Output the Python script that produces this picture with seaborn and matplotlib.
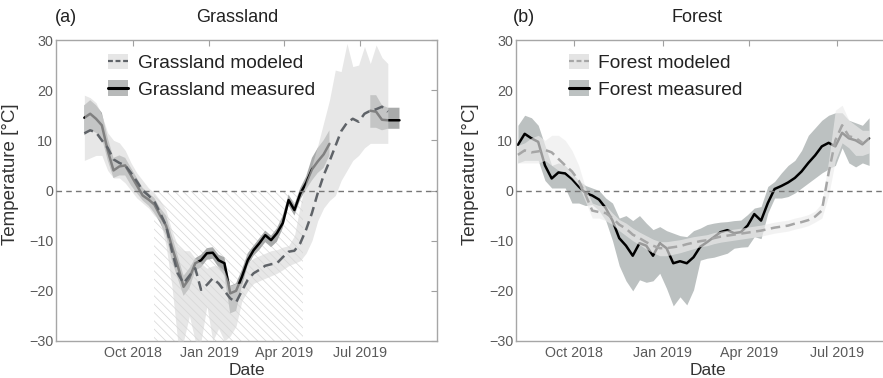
import numpy as np
import pandas as pd
import matplotlib
matplotlib.use("Agg")
import matplotlib.pyplot as plt
import matplotlib.dates as mdates
from matplotlib.patches import Patch
from matplotlib.lines import Line2D
import seaborn as sns

nan = np.nan

# Weekly snow-bottom temperature series (°C)
dates = pd.date_range("2018-08-04", periods=55, freq="7D")

grass_measured = [14.5, 15.3, 14.3, 13.0, 8.0, 4.0, 4.8, 5.0, 3.0, 1.0,
                  -1.0, -1.8, -2.8, -5.0, -7.0, -11.2, -15.0, -19.2, -17.5, -14.5,
                  -13.9, -12.5, -12.4, -13.9, -14.5, -20.5, -20.0, -17.2, -13.9, -11.9,
                  -10.5, -8.9, -9.9, -8.5, -6.5, -1.9, -3.9, -0.6, 1.5, 4.2,
                  5.8, 7.2, 9.3, nan, nan, nan, nan, nan, nan, 15.9,
                  15.7, 14.1, 14.0, 14.0, 14.0]
grass_measured_hi = [17.0, 18.0, 17.0, 15.5, 10.5, 6.5, 7.0, 6.5, 4.5, 2.5,
                     0.5, -0.5, -1.5, -3.5, -5.0, -9.0, -13.0, -17.0, -15.5, -13.5,
                     -12.8, -11.5, -11.3, -12.8, -13.3, -19.0, -18.5, -15.8, -12.5, -11.0,
                     -9.5, -8.0, -9.0, -7.5, -5.0, -0.8, -2.8, 0.5, 2.8, 6.5,
                     8.5, 10.0, 12.0, nan, nan, nan, nan, nan, nan, 19.0,
                     19.0, 17.0, 16.5, 16.5, 16.5]
grass_measured_lo = [11.0, 12.0, 11.5, 10.5, 6.0, 2.5, 3.0, 3.0, 1.0, -0.5,
                     -2.0, -3.0, -4.5, -6.5, -9.0, -14.0, -17.5, -21.0, -19.5, -16.0,
                     -15.3, -13.8, -13.6, -15.3, -17.0, -24.5, -24.0, -19.0, -15.0, -13.0,
                     -11.8, -10.3, -11.3, -10.2, -7.5, -3.0, -5.0, -1.8, 0.2, 2.0,
                     3.5, 4.5, 7.0, nan, nan, nan, nan, nan, nan, 12.5,
                     12.5, 12.0, 12.3, 12.3, 12.3]
grass_modeled = [11.4, 12.0, 11.6, 10.0, 8.5, 6.2, 5.5, 5.0, 3.5, 1.8,
                 0.0, -1.0, -2.2, -4.5, -7.0, -12.0, -16.5, -18.5, -17.0, -15.5,
                 -19.8, -18.8, -17.5, -18.5, -20.0, -21.5, -22.3, -20.0, -17.8, -16.5,
                 -15.8, -15.0, -14.7, -14.5, -13.3, -12.2, -12.0, -10.5, -7.8, -4.5,
                 -0.5, 3.0, 5.8, 8.8, 11.8, 13.5, 14.3, 13.7, 15.3, 15.9,
                 16.2, 16.7, 15.7, nan, nan]
grass_modeled_hi = [19.0, 18.5, 17.5, 15.0, 11.5, 10.0, 9.5, 8.0, 5.5, 3.5,
                    2.0, 0.5, -0.5, -2.0, -4.0, -8.0, -11.0, -12.0, -12.0, -13.5,
                    -14.5, -15.5, -15.0, -15.0, -16.0, -19.0, -18.5, -18.5, -14.5, -13.5,
                    -13.0, -12.5, -12.0, -11.8, -11.3, -11.0, -9.0, -3.0, 2.0, 5.0,
                    9.0, 13.5, 18.0, 24.0, 23.7, 29.3, 24.7, 25.0, 28.7, 25.3,
                    29.0, 26.5, 25.3, nan, nan]
grass_modeled_lo = [6.0, 6.5, 7.0, 7.0, 4.0, 2.5, 2.5, 1.5, 0.0, -1.5,
                    -2.5, -3.5, -5.0, -6.0, -11.0, -19.0, -30.0, -30.0, -25.0, -30.0,
                    -30.0, -23.0, -30.0, -27.5, -30.0, -29.0, -27.0, -22.0, -20.0, -18.5,
                    -18.0, -17.5, -17.0, -16.5, -15.8, -15.0, -14.5, -14.0, -12.5, -10.0,
                    -6.0, -3.5, -2.0, -1.0, 2.0, 4.0, 6.0, 7.0, 8.5, 9.4,
                    9.4, 9.4, 9.4, nan, nan]

forest_measured = [9.1, 11.3, 10.4, 9.7, 5.0, 2.4, 3.6, 3.4, 2.3, 0.8,
                   -0.5, -1.0, -1.8, -3.5, -6.0, -9.5, -11.0, -13.0, -10.5, -11.0,
                   -13.0, -10.5, -11.5, -14.5, -14.1, -14.5, -13.3, -11.2, -10.3, -9.3,
                   -8.3, -7.9, -8.5, -8.3, -7.0, -4.7, -6.0, -2.5, 0.3, 0.9,
                   1.6, 2.5, 3.8, 5.5, 7.0, 8.8, 9.5, 8.8, 11.5, 10.4,
                   10.0, 9.2, 10.4, nan, nan]
forest_measured_hi = [13.0, 15.0, 14.5, 13.0, 9.0, 5.0, 5.5, 5.0, 3.5, 2.0,
                      1.0, 0.5, 0.0, -1.5, -2.5, -5.5, -5.0, -6.0, -5.0, -6.5,
                      -7.8, -7.2, -8.0, -8.5, -9.0, -9.2, -8.0, -7.5, -6.8, -6.5,
                      -6.3, -6.2, -6.0, -5.9, -4.8, -3.5, -3.2, 0.8, 1.8, 3.5,
                      5.0, 6.0, 8.0, 11.0, 12.5, 14.0, 15.0, 15.5, 15.5, 14.0,
                      13.5, 13.0, 14.5, nan, nan]
forest_measured_lo = [5.5, 6.0, 6.0, 6.0, 2.0, 0.5, 0.5, 0.5, -2.5, -2.5,
                      -3.0, -2.8, -4.0, -6.0, -10.0, -15.0, -18.0, -20.0, -17.8, -18.3,
                      -18.0, -16.5, -19.5, -23.0, -21.2, -22.8, -19.8, -13.9, -13.5, -13.3,
                      -12.9, -12.5, -11.5, -11.3, -11.2, -9.2, -9.6, -4.5, -1.5, -1.5,
                      -1.2, -0.5, 0.5, 1.5, 2.5, 3.5, 4.3, 5.0, 8.5, 5.5,
                      4.7, 5.5, 5.0, nan, nan]
forest_modeled = [7.1, 8.0, 7.6, 7.8, 8.1, 7.6, 6.3, 5.0, 3.8, 2.0,
                  -0.8, -4.0, -4.3, -4.5, -5.5, -6.8, -7.6, -8.8, -9.5, -10.3,
                  -11.0, -11.5, -11.5, -11.3, -11.1, -10.7, -10.4, -10.1, -9.9, -9.5,
                  -9.2, -9.0, -8.8, -8.6, -8.4, -8.2, -8.0, -7.7, -7.4, -7.2,
                  -7.0, -6.6, -6.3, -5.9, -5.2, -4.0, 3.5, 10.0, 13.0, 10.8,
                  10.5, 9.5, nan, nan, nan]
forest_modeled_hi = [9.0, 9.5, 10.5, 11.0, 10.0, 11.0, 11.0, 10.0, 8.0, 5.0,
                     0.5, -2.5, -3.0, -3.0, -4.5, -5.8, -6.5, -7.5, -8.3, -9.0,
                     -9.7, -10.2, -10.2, -10.0, -9.8, -9.5, -9.2, -9.0, -8.8, -8.4,
                     -8.1, -7.9, -7.7, -7.5, -7.3, -7.1, -6.9, -6.6, -6.3, -6.1,
                     -5.9, -5.5, -5.2, -4.8, -4.1, -2.5, 6.0, 16.0, 17.0, 14.0,
                     13.0, 12.0, 12.0, nan, nan]
forest_modeled_lo = [5.5, 5.5, 5.5, 5.5, 6.0, 5.0, 4.0, 3.8, 2.5, 1.0,
                     -2.2, -5.5, -5.5, -6.0, -6.8, -8.0, -9.0, -10.0, -10.8, -11.7,
                     -12.4, -13.0, -13.0, -12.7, -12.4, -12.0, -11.6, -11.2, -11.0, -10.6,
                     -10.3, -10.1, -9.9, -9.7, -9.5, -9.3, -9.1, -8.8, -8.5, -8.3,
                     -8.1, -7.7, -7.4, -7.0, -6.3, -5.5, -1.0, 6.0, 9.5, 8.5,
                     7.0, 7.0, 7.5, nan, nan]

# Snow-covered period at the grassland site
snow_period = [pd.Timestamp("2018-10-27"), pd.Timestamp("2019-04-23")]

tick_dates = [pd.Timestamp("2018-10-01"), pd.Timestamp("2019-01-01"),
              pd.Timestamp("2019-04-01"), pd.Timestamp("2019-07-01")]
y_ticks = [-30, -20, -10, 0, 10, 20, 30]

sns.set_style("white")
plt.rcParams["font.family"] = ["Liberation Sans", "DejaVu Sans"]
plt.rcParams["hatch.linewidth"] = 0.5

W, H = 883, 378
fig = plt.figure(figsize=(W / 100, H / 100), dpi=100)
ax_g = fig.add_axes([56 / W, 37 / H, 381 / W, 301 / H])
ax_f = fig.add_axes([516 / W, 37 / H, 384 / W, 301 / H])


def line_frame(values):
    s = pd.Series(values, dtype=float)
    seg = s.isna().cumsum()
    return pd.DataFrame({"date": dates, "temp": s, "seg": seg}).dropna()


def draw_panel(ax, meas, meas_lo, meas_hi, mod, mod_lo, mod_hi, st):
    ax.fill_between(dates, meas_lo, meas_hi, color=st["meas_band"], lw=0, zorder=1)
    sns.lineplot(data=line_frame(meas), x="date", y="temp", units="seg",
                 estimator=None, color="black", lw=1.8, ax=ax, zorder=2,
                 legend=False)
    ax.fill_between(dates, mod_lo, mod_hi, color=st["mod_band"],
                    alpha=st["mod_alpha"], lw=0, zorder=3)
    ax.axhline(0, color="#777777", lw=1.0, ls=(0, (4, 3)), zorder=3.5)
    sns.lineplot(data=line_frame(mod), x="date", y="temp", units="seg",
                 estimator=None, color=st["mod_line"], lw=1.8, ax=ax, zorder=4,
                 linestyle=(0, (3.8, 2.2)), legend=False)

    ax.set_ylim(-30, 30)
    ax.set_yticks(y_ticks)
    ax.set_xticks(tick_dates)
    ax.xaxis.set_major_formatter(mdates.DateFormatter("%b %Y"))
    ax.tick_params(direction="in", top=True, right=True, length=4, width=0.8,
                   color="#a0a0a0", labelcolor="#5a5a5a", labelsize=10.3)
    ax.tick_params(axis="y", pad=2)
    for sp in ax.spines.values():
        sp.set_color("#a6a6a6")
        sp.set_linewidth(1.0)
    ax.set_xlabel("Date", fontsize=12.5, color="#333333")
    ax.set_ylabel("Temperature [°C]", fontsize=13.5, color="#333333")
    ax.xaxis.set_label_coords(0.5, -0.072)
    ax.yaxis.set_label_coords(-0.097, 0.553)

    handles = [
        (Patch(facecolor=st["leg_mod"], edgecolor="none"),
         Line2D([], [], color=st["mod_line"], lw=1.6, ls=(0, (2.2, 1.2)))),
        (Patch(facecolor=st["leg_meas"], edgecolor="none"),
         Line2D([], [], color="black", lw=2.2)),
    ]
    ax.legend(handles, [st["name"] + " modeled", st["name"] + " measured"],
              loc="upper left", bbox_to_anchor=(0.137, 0.955), frameon=False,
              borderpad=0, borderaxespad=0, fontsize=13.8, handlelength=1.05,
              handleheight=0.85, handletextpad=0.5, labelspacing=0.45,
              labelcolor="#222222")


grass_style = dict(name="Grassland", meas_band="#a9abab", mod_band="#d7d7d7",
                   mod_alpha=0.6, mod_line="#5f6368", leg_mod="#e6e6e6",
                   leg_meas="#b7b9b9")
forest_style = dict(name="Forest", meas_band="#bcc1c1", mod_band="#ececec",
                    mod_alpha=0.65, mod_line="#a6a6a6", leg_mod="#e4e4e4",
                    leg_meas="#bcc1c1")

ax_g.fill_between(snow_period, -30, 0, facecolor="none", edgecolor="#d6d6d6",
                  hatch="\\\\\\\\", lw=0, zorder=0.5)
draw_panel(ax_g, grass_measured, grass_measured_lo, grass_measured_hi,
           grass_modeled, grass_modeled_lo, grass_modeled_hi, grass_style)
draw_panel(ax_f, forest_measured, forest_measured_lo, forest_measured_hi,
           forest_modeled, forest_modeled_lo, forest_modeled_hi, forest_style)

ax_g.set_xlim(pd.Timestamp("2018-07-01"), pd.Timestamp("2019-10-01"))
ax_f.set_xlim(pd.Timestamp("2018-08-02"), pd.Timestamp("2019-09-04"))

for x, label in [(237, "Grassland"), (697, "Forest")]:
    fig.text(x / W, 1 - 18 / H, label, ha="center", va="center",
             fontsize=13, color="#222222")
for x, label in [(55, "(a)"), (513, "(b)")]:
    fig.text(x / W, 1 - 18 / H, label, ha="left", va="center",
             fontsize=13, color="#222222")

fig.savefig("out.png", dpi=100)
